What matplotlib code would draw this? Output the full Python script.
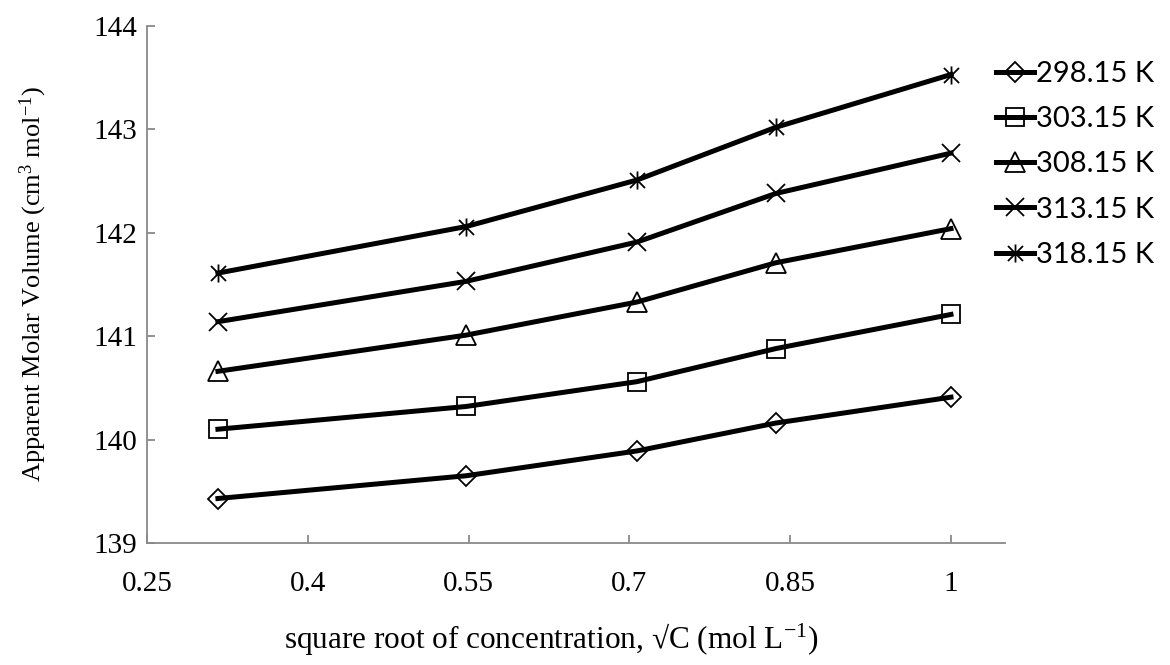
import numpy as np
import matplotlib
matplotlib.use("Agg")
import matplotlib.pyplot as plt
from matplotlib.path import Path

# sqrt(C) for C = 0.1, 0.3, 0.5, 0.7, 1.0 mol/L
raiz_c = [0.3162, 0.5477, 0.7071, 0.8367, 1.0]

# volumen molar aparente (cm3/mol) a cada temperatura
v_298 = [139.43, 139.65, 139.89, 140.16, 140.41]
v_303 = [140.10, 140.32, 140.56, 140.88, 141.21]
v_308 = [140.66, 141.01, 141.33, 141.71, 142.04]
v_313 = [141.14, 141.53, 141.91, 142.38, 142.77]
v_318 = [141.61, 142.06, 142.51, 143.02, 143.53]

etiquetas = ["298.15 K", "303.15 K", "308.15 K", "313.15 K", "318.15 K"]

# marcador tipo asterisco (x con una barra vertical)
estrella = Path([(-1, -1), (1, 1), (-1, 1), (1, -1), (0, -1.2), (0, 1.2)],
                [Path.MOVETO, Path.LINETO, Path.MOVETO, Path.LINETO,
                 Path.MOVETO, Path.LINETO])

series = [
    (v_298, "D", 10),
    (v_303, "s", 13.5),
    (v_308, "^", 14),
    (v_313, "x", 13),
    (v_318, estrella, 13),
]

plt.rcParams["mathtext.fontset"] = "custom"
plt.rcParams["mathtext.rm"] = "Liberation Serif"
plt.rcParams["mathtext.it"] = "Liberation Serif:italic"

fig = plt.figure(figsize=(11.7, 6.65), dpi=100)
ax = fig.add_axes([0.1256, 0.1835, 0.733, 0.7775])

for (vals, mk, ms), lab in zip(series, etiquetas):
    ax.plot(raiz_c, vals, color="black", lw=3.6, marker=mk, ms=ms,
            mfc="none", mec="black", mew=1.3, label=lab)

ax.set_xlim(0.25, 1.05)
ax.set_ylim(139, 144)
ax.set_xticks([0.25, 0.4, 0.55, 0.7, 0.85, 1.0])
ax.set_xticklabels(["0.25", "0.4", "0.55", "0.7", "0.85", "1"])
ax.set_yticks([139, 140, 141, 142, 143, 144])

for lado in ["top", "right"]:
    ax.spines[lado].set_visible(False)
for lado in ["left", "bottom"]:
    ax.spines[lado].set_color("#898989")
    ax.spines[lado].set_linewidth(1.3)

ax.tick_params(direction="in", length=6, width=1.3, color="#898989",
               labelsize=21, pad=7)
for t in ax.get_xticklabels() + ax.get_yticklabels():
    t.set_fontfamily("Liberation Serif")
ax.tick_params(axis="x", pad=20)

ax.set_xlabel(r"square root of concentration, √C (mol L$^{-1}$)",
              fontsize=22.5, fontfamily="Liberation Serif")
ax.xaxis.set_label_coords(0.471, -0.152)
ax.set_ylabel(r"Apparent Molar Volume (cm$^{3}$ mol$^{-1}$)",
              fontsize=19, fontfamily="Liberation Serif")
ax.yaxis.set_label_coords(-0.114, 0.5)

ax.legend(loc="upper left", bbox_to_anchor=(0.841, 0.926),
          bbox_transform=fig.transFigure, frameon=False,
          prop={"family": "Lato", "size": 21}, handlelength=1.3,
          handletextpad=0.1, labelspacing=0.66, borderaxespad=0)

fig.savefig("out.png", dpi=100)
